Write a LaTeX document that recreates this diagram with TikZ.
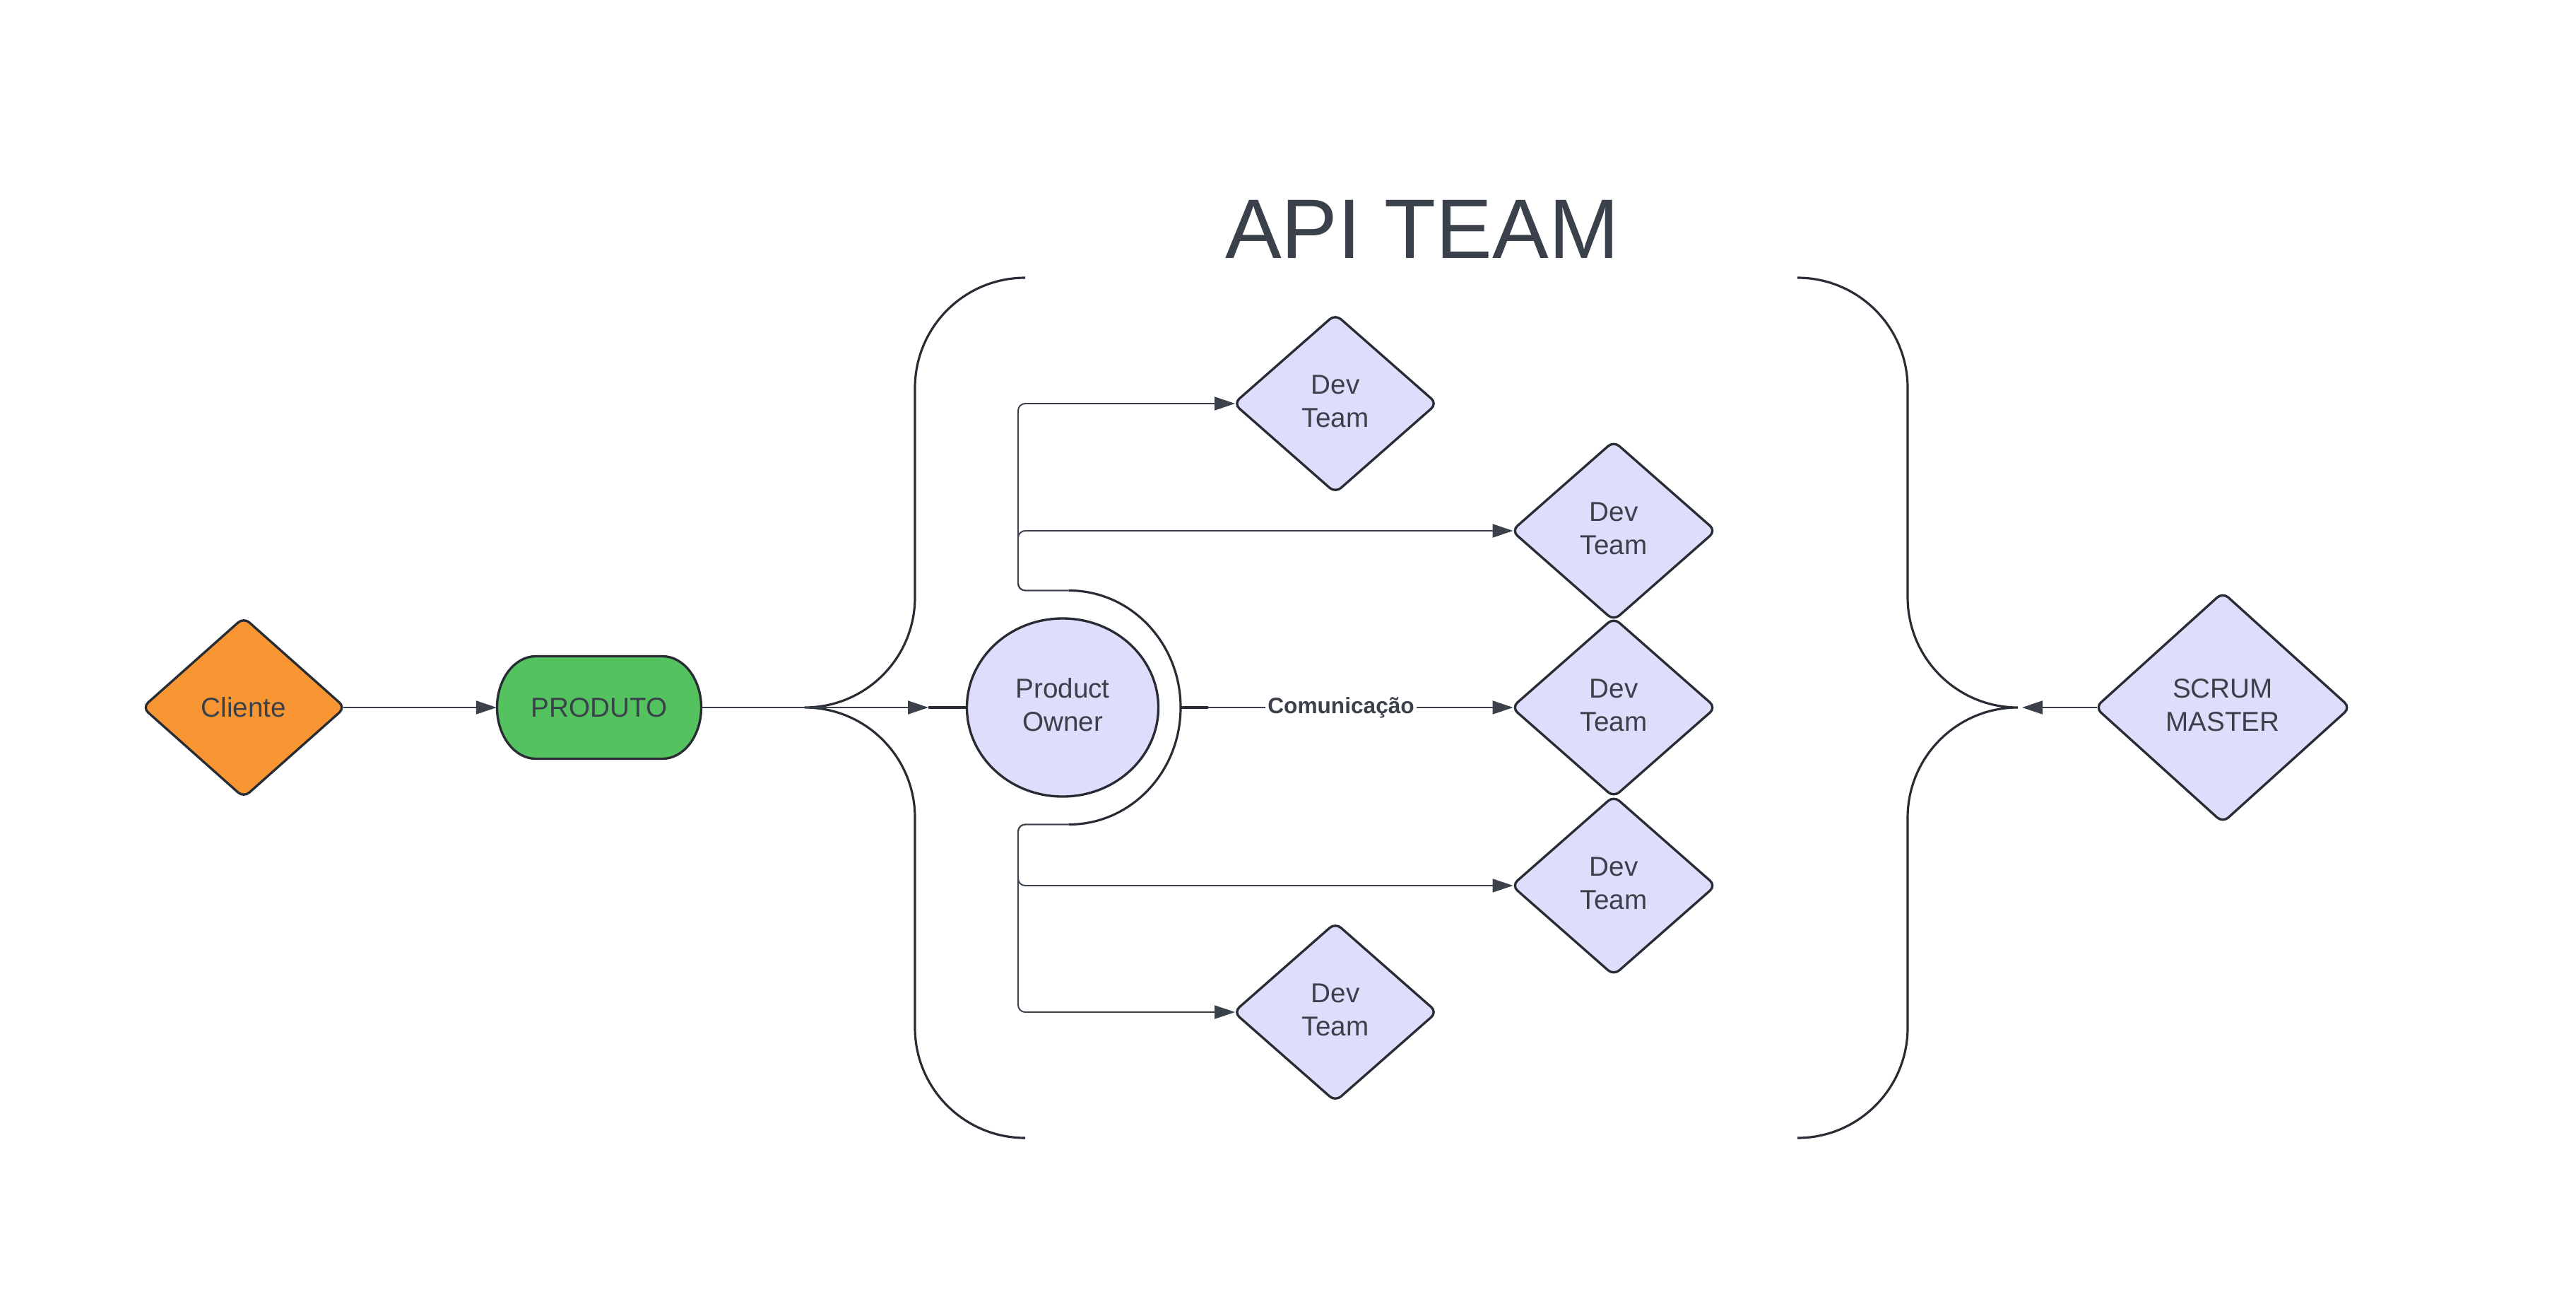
\documentclass[tikz,border=0pt]{standalone}
\usepackage{fontspec}
\setmainfont{Liberation Sans}
\usetikzlibrary{shapes.geometric,arrows.meta}
\definecolor{cOrange}{RGB}{249,150,52}
\definecolor{cGreen}{RGB}{84,195,95}
\definecolor{cLav}{RGB}{222,222,252}
\definecolor{cStroke}{RGB}{40,44,52}
\definecolor{cLine}{RGB}{58,65,74}
\definecolor{cText}{RGB}{58,65,74}
\begin{document}
\begin{tikzpicture}[
  nodestroke/.style={draw=cStroke, line width=0.95pt},
  txt/.style={text=cText, align=center, font=\fontsize{11pt}{13.4pt}\selectfont},
  diam/.style={diamond, nodestroke, rounded corners=3pt, inner sep=0pt, fill=cLav, txt},
  inner/.style={label={[txt, inner sep=0pt, yshift=0.035cm]center:{#1}}},
  conn/.style={draw=cLine, line width=0.55pt, -{Triangle[length=0.29cm,width=0.19cm]}},
  todiam/.style={shorten >=-1.2pt},
  bracestroke/.style={draw=cStroke, line width=0.9pt},
  comlabel/.style={fill=white, inner sep=1pt, text=cText, font=\fontsize{9pt}{11pt}\selectfont\bfseries}
]
\useasboundingbox[fill=white] (0,0) rectangle (36.46,-18.27);

% title
\node[anchor=base, text=cText, font=\fontsize{34pt}{40pt}\selectfont] (title) at (20.13,-3.65) {API TEAM};

% Cliente
\node[diam, fill=cOrange, minimum width=2.88cm, minimum height=2.56cm] (cli) at (3.45,-10.01) {Cliente};

% PRODUTO (rounded box with elliptical corners)
\filldraw[fill=cGreen, nodestroke, shift={(8.48,-10.01)}]
  (-0.895,0.725) -- (0.895,0.725)
  arc[start angle=90,end angle=-90,x radius=0.55,y radius=0.725]
  -- (-0.895,-0.725)
  arc[start angle=270,end angle=90,x radius=0.55,y radius=0.725] -- cycle;
\node[txt, minimum width=2.89cm, minimum height=1.45cm, inner sep=0pt] (prod) at (8.48,-10.01) {PRODUTO};

% Product Owner
\node[ellipse, nodestroke, fill=cLav, txt, minimum width=2.71cm, minimum height=2.52cm, inner sep=0pt,
      inner={Product\\Owner}] (po) at (15.04,-10.01) {};

% Dev teams
\node[diam, minimum width=2.89cm, minimum height=2.54cm, inner={Dev\\Team}] (dt1) at (18.90,-5.71) {};
\node[diam, minimum width=2.90cm, minimum height=2.55cm, inner={Dev\\Team}] (dt2) at (22.84,-7.51) {};
\node[diam, minimum width=2.90cm, minimum height=2.55cm, inner={Dev\\Team}] (dt3) at (22.84,-10.01) {};
\node[diam, minimum width=2.90cm, minimum height=2.55cm, inner={Dev\\Team}] (dt4) at (22.84,-12.53) {};
\node[diam, minimum width=2.89cm, minimum height=2.54cm, inner={Dev\\Team}] (dt5) at (18.90,-14.32) {};

% Scrum master
\node[diam, minimum width=3.62cm, minimum height=3.27cm, inner={SCRUM\\MASTER}] (sm) at (31.46,-10.01) {};

% braces
\draw[bracestroke] (14.51,-3.93) arc[start angle=90,end angle=180,radius=1.56]
  -- (12.95,-8.45) arc[start angle=0,end angle=-90,radius=1.56]
  arc[start angle=90,end angle=0,radius=1.56]
  -- (12.95,-14.54) arc[start angle=180,end angle=270,radius=1.56];
\draw[bracestroke] (25.44,-3.93) arc[start angle=90,end angle=0,radius=1.56]
  -- (27.00,-8.45) arc[start angle=180,end angle=270,radius=1.56]
  arc[start angle=90,end angle=180,radius=1.56]
  -- (27.00,-14.54) arc[start angle=0,end angle=-90,radius=1.56];

% arc around Product Owner
\coordinate (arcTop) at (15.13,-8.355);
\coordinate (arcBot) at (15.13,-11.665);
\coordinate (arcR) at (16.71,-10.01);
\draw[bracestroke] (arcTop) arc[start angle=90,end angle=-90,x radius=1.58,y radius=1.655];

% connectors
\draw[conn, shorten <=-1.2pt] (cli.east) -- (prod.west);
\coordinate (poIn) at (13.14,-10.01);
\draw[conn] (prod.east) -- (poIn);
\draw[bracestroke] (poIn) -- (po.west);

\draw[conn, todiam, rounded corners=0.1cm] (arcTop) -- (14.41,-8.355) -- (14.41,-5.71) -- (dt1.west);
\draw[conn, todiam, rounded corners=0.1cm] (arcTop) -- (14.41,-8.355) -- (14.41,-7.51) -- (dt2.west);
\draw[conn, todiam, rounded corners=0.1cm] (arcBot) -- (14.41,-11.665) -- (14.41,-12.53) -- (dt4.west);
\draw[conn, todiam, rounded corners=0.1cm] (arcBot) -- (14.41,-11.665) -- (14.41,-14.32) -- (dt5.west);

\coordinate (comStart) at (17.10,-10.01);
\draw[bracestroke] (arcR) -- (comStart);
\draw[conn, todiam] (comStart) -- node[comlabel, pos=0.44] (com) {Comunicação} (dt3.west);

\coordinate (smIn) at (28.62,-10.01);
\draw[conn, shorten <=-1.2pt] (sm.west) -- (smIn);
\end{tikzpicture}
\end{document}
